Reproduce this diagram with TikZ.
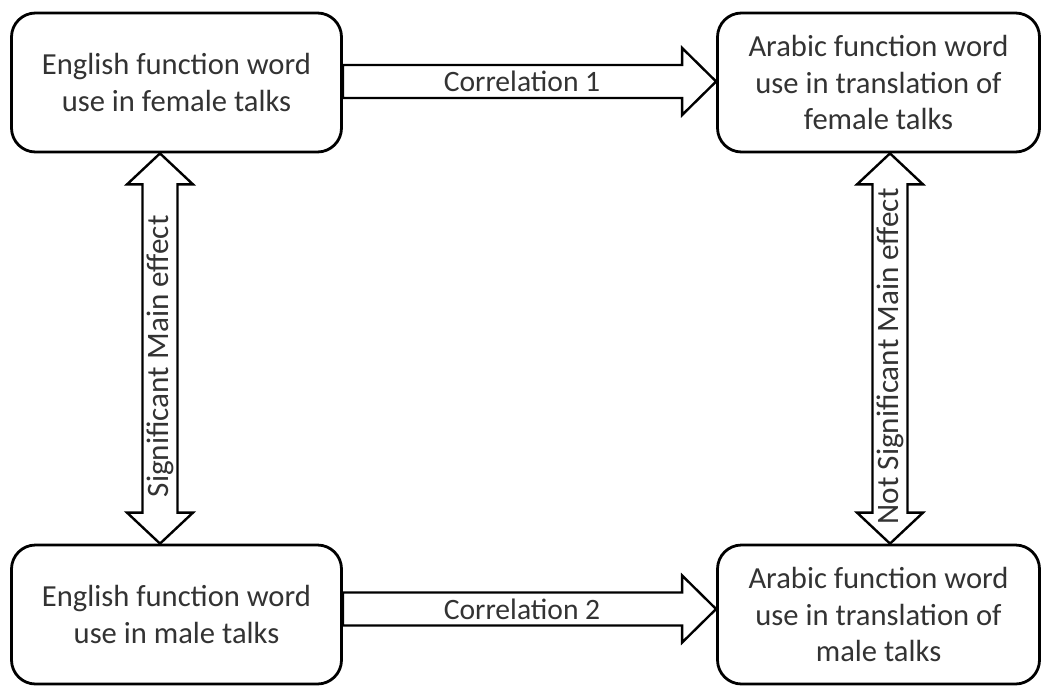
\documentclass[tikz,border=0pt]{standalone}
\usepackage{fontspec}
\setmainfont{Carlito}
\usepackage{xcolor}
\usetikzlibrary{calc}

\begin{document}
\begin{tikzpicture}[x=0.5pt,y=-0.5pt,
  box/.style={draw,line width=1.4pt,rounded corners=12pt,fill=white,align=center,
    minimum height=69.5pt,font=\fontsize{15.3}{18.4}\selectfont,text=black!80},
  blockarrow/.style={draw,line width=1.2pt,fill=white,line join=miter},
  lbl/.style={font=\fontsize{14.8}{17}\selectfont,text=black!80,inner sep=0pt}]
\useasboundingbox (0,0) rectangle (1042,686);

% the four boxes
\node[box,minimum width=165pt] (fe) at (176.5,82.5) {English function word\\use in female talks};
\node[box,minimum width=161pt] (fa) at (878.5,82.5) {Arabic function word\\use in translation of\\female talks};
\node[box,minimum width=165pt] (me) at (176.5,614.5) {English function word\\use in male talks};
\node[box,minimum width=161pt] (ma) at (878.5,614.5) {Arabic function word\\use in translation of\\male talks};

% tips of the block arrows
\coordinate (c1a) at ($(fe.east)+(0,-1)$);
\coordinate (c1b) at (c1a -| fa.west);
\coordinate (c2a) at ($(me.east)+(0,-5.5)$);
\coordinate (c2b) at (c2a -| ma.west);
\coordinate (s1a) at ($(fe.south)+(-16.5,0)$);
\coordinate (s1b) at (s1a |- me.north);
\coordinate (s2a) at ($(fa.south)+(11.5,0)$);
\coordinate (s2b) at (s2a |- ma.north);

% correlation arrows
\draw[blockarrow] ($(c1a)+(0,-16.5)$) -- ($(c1b)+(-34,-16.5)$) -- ($(c1b)+(-34,-33.5)$) -- (c1b)
  -- ($(c1b)+(-34,33.5)$) -- ($(c1b)+(-34,16.5)$) -- ($(c1a)+(0,16.5)$) -- cycle;
\draw[blockarrow] ($(c2a)+(0,-16.5)$) -- ($(c2b)+(-34,-16.5)$) -- ($(c2b)+(-34,-33.5)$) -- (c2b)
  -- ($(c2b)+(-34,33.5)$) -- ($(c2b)+(-34,16.5)$) -- ($(c2a)+(0,16.5)$) -- cycle;

% main effect arrows
\draw[blockarrow] (s1a) -- ($(s1a)+(33,31)$) -- ($(s1a)+(17.5,31)$) -- ($(s1b)+(17.5,-31)$)
  -- ($(s1b)+(33,-31)$) -- (s1b) -- ($(s1b)+(-33,-31)$) -- ($(s1b)+(-17.5,-31)$)
  -- ($(s1a)+(-17.5,31)$) -- ($(s1a)+(-33,31)$) -- cycle;
\draw[blockarrow] (s2a) -- ($(s2a)+(33,31)$) -- ($(s2a)+(17.5,31)$) -- ($(s2b)+(17.5,-31)$)
  -- ($(s2b)+(33,-31)$) -- (s2b) -- ($(s2b)+(-33,-31)$) -- ($(s2b)+(-17.5,-31)$)
  -- ($(s2a)+(-17.5,31)$) -- ($(s2a)+(-33,31)$) -- cycle;

% labels
\node[lbl] (cor1) at ($(c1a)!0.48!(c1b)$) {Correlation 1};
\node[lbl] (cor2) at ($(c2a)!0.48!(c2b)$) {Correlation 2};
\node[lbl,rotate=90,font=\fontsize{15.6}{17}\selectfont] (sig) at ($(s1a)!0.52!(s1b)$) {Significant Main effect};
\node[lbl,rotate=90,font=\fontsize{15.6}{17}\selectfont] (nsig) at ($(s2a)!0.52!(s2b)$) {Not Significant Main effect};
\end{tikzpicture}
\end{document}
